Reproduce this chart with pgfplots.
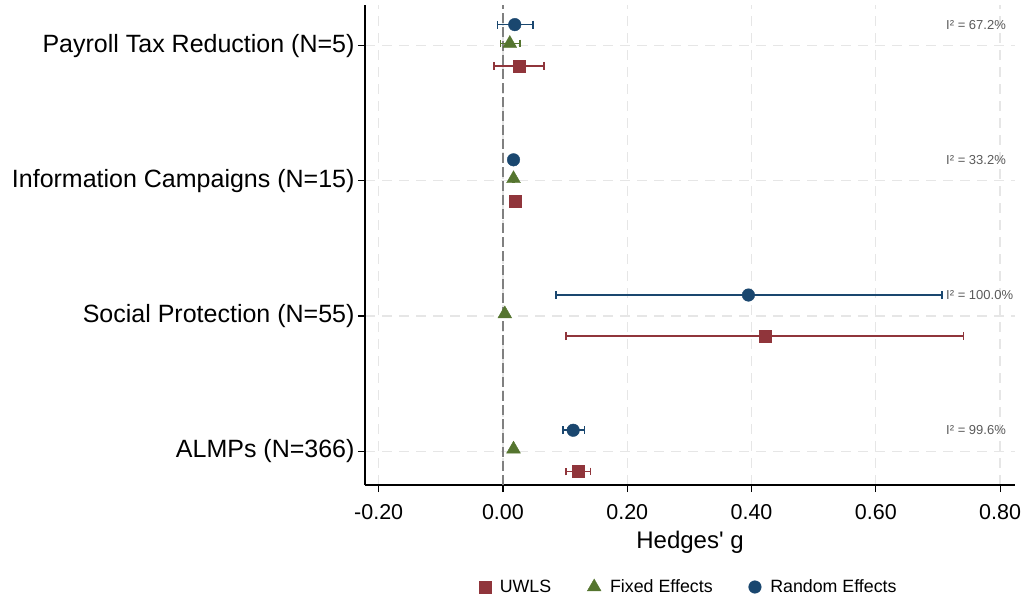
\documentclass[border=0pt]{standalone}
\usepackage{pgfplots}
\pgfplotsset{compat=1.18}
\usepackage{pgfplotstable}
\usepackage{fontspec}
\setmainfont{Liberation Sans}
% same face without TeX quote mapping, for the straight apostrophe
\newfontfamily\plainsans{Liberation Sans}

\definecolor{reblue}{RGB}{26,71,111}
\definecolor{fegreen}{RGB}{85,117,47}
\definecolor{uwred}{RGB}{144,53,59}
\definecolor{gridgray}{RGB}{230,230,230}
\definecolor{zerogray}{RGB}{128,128,128}
\definecolor{isqgray}{RGB}{90,90,90}

% pos: 1 ALMPs, 2 Social Protection, 3 Information Campaigns, 4 Payroll Tax Reduction
% g = pooled Hedges' g, lo/hi = confidence bounds
\pgfplotstableread{
pos g lo hi
1 0.121 0.101 0.141
2 0.422 0.101 0.741
3 0.020 0.019 0.021
4 0.026 -0.014 0.066
}\uwls
\pgfplotstableread{
pos g lo hi
1 0.017 0.016 0.018
2 0.003 0.002 0.004
3 0.017 0.016 0.018
4 0.011 -0.004 0.027
}\fixed
\pgfplotstableread{
pos g lo hi
1 0.113 0.097 0.131
2 0.395 0.085 0.706
3 0.017 0.016 0.018
4 0.019 -0.009 0.048
}\random

\pgfplotsset{
  ci/.style={
    error bars/.cd, x dir=both, x explicit, error mark=|,
    error bar style={line width=1.7bp, solid},
    error mark options={line width=1.7bp, mark size=3.9bp, solid},
  },
}

\begin{document}
\begin{tikzpicture}
\useasboundingbox (0,0) rectangle (1023bp,601bp);
\begin{axis}[
  at={(365bp,116bp)}, anchor=south west,
  scale only axis, width=650bp, height=480bp,
  xmin=-0.222, xmax=0.824, ymin=0.75, ymax=4.3,
  axis x line*=bottom, axis y line*=left,
  axis line style={line width=1.2bp, black},
  tick align=outside, major tick length=7bp,
  tick style={line width=1.1bp, black},
  xtick={-0.2,0,0.2,0.4,0.6,0.8},
  xticklabels={-0.20,0.00,0.20,0.40,0.60,0.80},
  ytick={1,2,3,4},
  yticklabels={ALMPs (N=366), Social Protection (N=55), Information Campaigns (N=15), Payroll Tax Reduction (N=5)},
  xticklabel style={font=\fontsize{21.5bp}{24bp}\selectfont, yshift=-9bp},
  yticklabel style={font=\fontsize{25bp}{28bp}\selectfont},
  xmajorgrids, ymajorgrids,
  major grid style={gridgray, line width=1.2bp, dash pattern=on 10bp off 7bp},
  xlabel={\plainsans Hedges' g},
  xlabel style={font=\fontsize{24bp}{28bp}\selectfont, at={(axis description cs:0.5,-0.119)}, anchor=center},
  legend columns=3,
  legend style={draw=none, fill=none, at={(0.498,-0.2125)}, anchor=center,
    font=\fontsize{17.8bp}{20bp}\selectfont,
    /tikz/every even column/.append style={column sep=34bp},
    /tikz/every odd column/.append style={column sep=7bp}},
  legend image code/.code={\draw[mark repeat=2,mark phase=2] plot coordinates {(0bp,0bp) (6bp,0bp) (12bp,0bp)};},
]
% reference line at zero
\addplot[forget plot, zerogray, line width=2.2bp, dash pattern=on 10bp off 4bp] coordinates {(0,0.75) (0,4.3)};

\addplot[only marks, mark=square*, mark size=6bp, uwred, mark options={solid}, ci]
  table[x=g, y expr=\thisrow{pos}-0.15,
        x error plus expr=\thisrow{hi}-\thisrow{g},
        x error minus expr=\thisrow{g}-\thisrow{lo}] {\uwls};
\addlegendentry{UWLS}

\addplot[only marks, mark=triangle*, mark size=8bp, fegreen, mark options={solid}, ci]
  table[x=g, y expr=\thisrow{pos}+0.015,
        x error plus expr=\thisrow{hi}-\thisrow{g},
        x error minus expr=\thisrow{g}-\thisrow{lo}] {\fixed};
\addlegendentry{Fixed Effects}

\addplot[only marks, mark=*, mark size=6.3bp, reblue, mark options={solid}, ci]
  table[x=g, y expr=\thisrow{pos}+0.155,
        x error plus expr=\thisrow{hi}-\thisrow{g},
        x error minus expr=\thisrow{g}-\thisrow{lo}] {\random};
\addlegendentry{Random Effects}

% heterogeneity statistics
\begin{scope}[every node/.style={anchor=west, inner sep=0pt, text=isqgray, font=\fontsize{13bp}{15bp}\selectfont}]
\node at (axis cs:0.713,4.155) {I² = 67.2\%};
\node at (axis cs:0.713,3.155) {I² = 33.2\%};
\node at (axis cs:0.713,2.155) {I² = 100.0\%};
\node at (axis cs:0.713,1.155) {I² = 99.6\%};
\end{scope}
\end{axis}
\end{tikzpicture}
\end{document}
